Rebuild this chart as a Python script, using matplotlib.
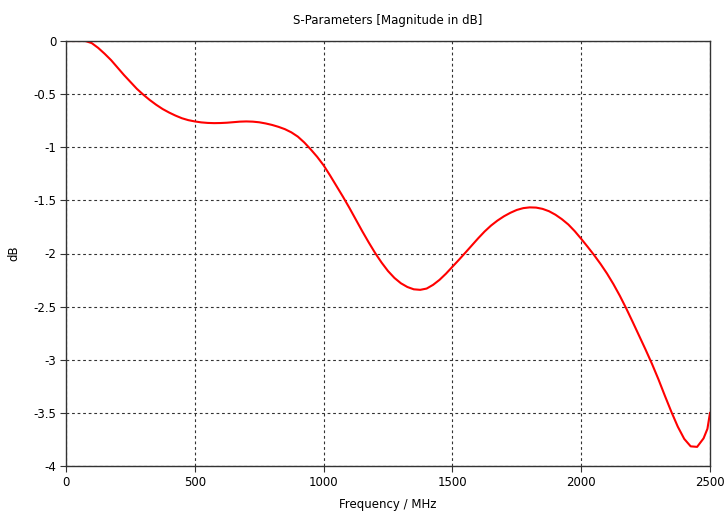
import matplotlib
matplotlib.use('Agg')
import matplotlib.pyplot as plt

# values (every 25 MHz)
freq = [0, 25, 50, 75, 100, 125, 150, 175, 200, 225, 250, 275, 300, 325, 350,
        375, 400, 425, 450, 475, 500, 525, 550, 575, 600, 625, 650, 675, 700,
        725, 750, 775, 800, 825, 850, 875, 900, 925, 950, 975, 1000, 1025, 1050,
        1075, 1100, 1125, 1150, 1175, 1200, 1225, 1250, 1275, 1300, 1325, 1350,
        1375, 1400, 1425, 1450, 1475, 1500, 1525, 1550, 1575, 1600, 1625, 1650,
        1675, 1700, 1725, 1750, 1775, 1800, 1825, 1850, 1875, 1900, 1925, 1950,
        1975, 2000, 2025, 2050, 2075, 2100, 2125, 2150, 2175, 2200, 2225, 2250,
        2275, 2300, 2325, 2350, 2375, 2400, 2425, 2450, 2475, 2490, 2500]
mag_db = [0, 0, 0, 0, -0.02, -0.065, -0.12, -0.18, -0.25, -0.32, -0.385, -0.45,
          -0.505, -0.555, -0.60, -0.64, -0.673, -0.702, -0.727, -0.745, -0.757,
          -0.766, -0.771, -0.773, -0.772, -0.769, -0.764, -0.759, -0.757, -0.759,
          -0.765, -0.776, -0.79, -0.808, -0.83, -0.86, -0.90, -0.955, -1.02, -1.09,
          -1.17, -1.265, -1.365, -1.465, -1.57, -1.68, -1.79, -1.895, -1.995,
          -2.085, -2.165, -2.23, -2.28, -2.315, -2.337, -2.342, -2.33, -2.295,
          -2.248, -2.19, -2.125, -2.06, -1.993, -1.925, -1.857, -1.793, -1.737,
          -1.69, -1.65, -1.617, -1.59, -1.573, -1.566, -1.568, -1.58, -1.602,
          -1.635, -1.677, -1.727, -1.79, -1.862, -1.937, -2.015, -2.098, -2.188,
          -2.288, -2.398, -2.518, -2.645, -2.775, -2.905, -3.04, -3.185, -3.34,
          -3.49, -3.63, -3.745, -3.815, -3.82, -3.74, -3.65, -3.50]

xticks = [0, 500, 1000, 1500, 2000, 2500]
yticks = [0, -0.5, -1, -1.5, -2, -2.5, -3, -3.5, -4]
ylabels = ['0', '-0.5', '-1', '-1.5', '-2', '-2.5', '-3', '-3.5', '-4']

fig = plt.figure(figsize=(7.28, 5.2), dpi=100)
ax = fig.add_axes([66/728, 1-466/520, 644/728, 425/520])

ax.plot(freq, mag_db, color='red', lw=1.5)

ax.set_xlim(0, 2500)
ax.set_ylim(-4, 0)
ax.set_xticks(xticks)
ax.set_yticks(yticks)
ax.set_yticklabels(ylabels)
ax.tick_params(labelsize=8.5, length=4, width=0.8, color='0.2', pad=3)
ax.grid(True, color='0.2', linestyle=(0, (2.5, 2.5)), lw=0.8)
for s in ax.spines.values():
    s.set_color('0.2')
    s.set_linewidth(1.0)

ax.set_title('S-Parameters [Magnitude in dB]', fontsize=8.5, pad=12)
ax.set_xlabel('Frequency / MHz', fontsize=8.5, labelpad=7)
ax.set_ylabel('dB', fontsize=8.5, labelpad=9)

fig.savefig('out.png', dpi=100)
